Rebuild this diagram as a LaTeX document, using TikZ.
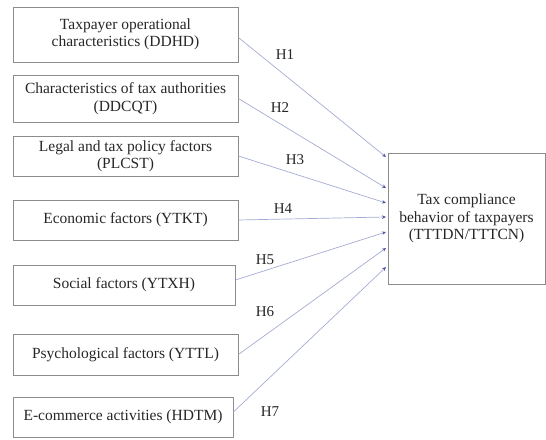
\documentclass[tikz,border=0pt]{standalone}
\usepackage{fontspec}
\setmainfont{Liberation Serif}
\usetikzlibrary{arrows.meta}
\definecolor{boxgray}{RGB}{140,140,140}
\definecolor{hypline}{RGB}{165,172,212}
\definecolor{tipblue}{RGB}{75,85,165}
\begin{document}
\begin{tikzpicture}[x=1pt, y=-1pt,
		factor/.style={draw=boxgray, line width=0.8pt, align=center, text=black!85, inner sep=2pt, font=\fontsize{15.5}{17.5}\selectfont},
		hyp/.style={draw=hypline, line width=0.7pt, -{Stealth[length=4pt, width=3.5pt, color=tipblue]}},
		hlabel/.style={text=black!85, font=\fontsize{15}{17}\selectfont}]
		\useasboundingbox (0,0) rectangle (546,439);
		\node[factor, minimum width=225pt, minimum height=55pt] (ddhd) at (125.5,34.5) {Taxpayer operational\\characteristics (DDHD)};
		\node[factor, minimum width=225pt, minimum height=47pt] (ddcqt) at (125.5,98.5) {Characteristics of tax authorities\\(DDCQT)};
		\node[factor, minimum width=225pt, minimum height=40pt] (plcst) at (125.5,156) {Legal and tax policy factors\\(PLCST)};
		\node[factor, minimum width=225pt, minimum height=40pt] (ytkt) at (125.5,220) {Economic factors (YTKT)};
		\node[factor, minimum width=222pt, minimum height=40pt] (ytxh) at (124,285) {Social factors (YTXH)};
		\node[factor, minimum width=225pt, minimum height=41pt] (yttl) at (125.5,354.5) {Psychological factors (YTTL)};
		\node[factor, minimum width=220pt, minimum height=40pt] (hdtm) at (123,417) {E-commerce activities (HDTM)};
		\node[factor, minimum width=157pt, minimum height=131pt] (tttdn) at (466.5,218.5) {Tax compliance\\behavior of taxpayers\\(TTTDN/TTTCN)};
		\coordinate (e1) at (386,157);
		\coordinate (e2) at (386,188);
		\coordinate (e3) at (386,203);
		\coordinate (e4) at (386,217);
		\coordinate (e5) at (386,232);
		\coordinate (e6) at (386,248);
		\coordinate (e7) at (386,267);
		\draw[hyp] ([yshift=-3pt]ddhd.east) -- (e1);
		\draw[hyp] (ddcqt.east) -- (e2);
		\draw[hyp] (plcst.east) -- (e3);
		\draw[hyp] (ytkt.east) -- (e4);
		\draw[hyp] ([yshift=5pt]ytxh.east) -- (e5);
		\draw[hyp] (yttl.east) -- (e6);
		\draw[hyp] ([yshift=5pt]hdtm.east) -- (e7);
		\node[hlabel] (h1) at (285,55) {H1};
		\node[hlabel] (h2) at (280,108) {H2};
		\node[hlabel] (h3) at (295,160) {H3};
		\node[hlabel] (h4) at (283,209) {H4};
		\node[hlabel] (h5) at (265,260) {H5};
		\node[hlabel] (h6) at (265,312) {H6};
		\node[hlabel] (h7) at (270,412) {H7};
	\end{tikzpicture}
\end{document}
